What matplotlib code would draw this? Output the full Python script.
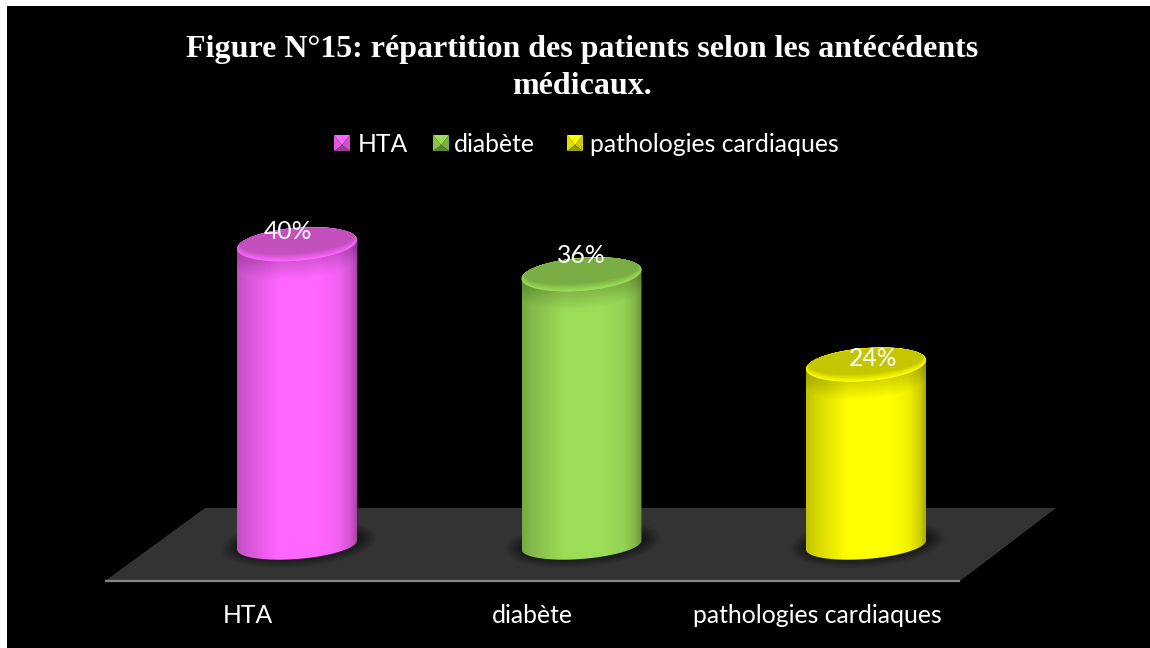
import numpy as np
import matplotlib
matplotlib.use('Agg')
import matplotlib.pyplot as plt
from matplotlib.colors import to_rgb
from matplotlib.patches import Polygon, Rectangle

categories = ['HTA', 'diabète', 'pathologies cardiaques']
valeurs = [40, 36, 24]
etiquettes = ['40%', '36%', '24%']
titre = ['Figure N°15: répartition des patients selon les antécédents', 'médicaux.']

couleurs = ['#ff66ff', '#9cdd58', '#ffff00']
couleurs_dessus = ['#c450be', '#7aae45', '#c6c600']
# decalage des etiquettes par rapport au haut de la barre (px)
decalage_x = [-9, 0, 7]
decalage_y = [13, 19, 6]

W, H = 1150, 648
fig = plt.figure(figsize=(W / 100, H / 100), dpi=100, facecolor='white')

# fond et plancher, en pixels
fond = fig.add_axes([0, 0, 1, 1], zorder=0)
fond.set_xlim(0, W)
fond.set_ylim(H, 0)
fond.axis('off')
fond.add_patch(Rectangle((7, 6), W - 7, H - 6, color='black', lw=0))
fond.add_patch(Polygon([(205, 508), (1056, 508), (960, 581), (105, 581)], color='#333333', lw=0))
fond.plot([105, 960], [581, 581], color='#858585', lw=1.6, solid_capstyle='butt')

# axes des barres: x=0 a 297 px, 284.5 px par categorie, y=0 a 545 px, 7.52 px par %
ax = fig.add_axes([0, 0, 1, 1], zorder=1)
ax.patch.set_alpha(0)
px_x, px_y = 284.5, 7.52
limites_x = (-297 / px_x, (W - 297) / px_x)
limites_y = (-(H - 545) / px_y, 545 / px_y)
ax.axis('off')

demi_l = 60 / px_x
demi_h_bas = 14 / px_y
demi_h_haut = 16.5 / px_y
pente = 4.5 / px_y


def ellipse(cx, cy, a, b, t):
    return cx + a * np.cos(t), cy + b * np.sin(t) + pente * (a / demi_l) * np.cos(t)


def degrade(couleur):
    c = np.array(to_rgb(couleur))
    pos = np.array([0, 0.08, 0.35, 0.68, 0.85, 0.95, 1])
    fac = np.array([0.76, 0.84, 1, 1, 0.95, 0.82, 0.66])
    x = np.linspace(0, 1, 240)
    f = np.interp(x, pos, fac)
    return (f[:, None] * c)[None, :, :]


def cylindre(i, v, coul, coul_dessus):
    # ombre au sol
    t = np.linspace(0, 2 * np.pi, 120)
    for k in range(14):
        ex, ey = ellipse(i + 0.005, 0.2, demi_l * (1.3 - k * 0.022), demi_h_bas * (1.7 - k * 0.05), t)
        ax.fill(ex, ey, color='black', alpha=0.035, lw=0, zorder=2)

    t_bas = np.linspace(np.pi, 2 * np.pi, 60)
    t_haut = np.linspace(0, np.pi, 60)
    bx, by = ellipse(i, 0, demi_l, demi_h_bas, t_bas)
    hx, hy = ellipse(i, v, demi_l, demi_h_haut, t_haut)
    corps = Polygon(np.column_stack([np.r_[bx, hx], np.r_[by, hy]]), transform=ax.transData, lw=0, fc='none')
    ax.add_patch(corps)
    im = ax.imshow(degrade(coul), extent=[i - demi_l, i + demi_l, -3, v + 4], aspect='auto', zorder=3,
                   interpolation='bilinear')
    im.set_clip_path(corps)

    # assombrit le haut du corps, juste sous le bord
    t_av = np.linspace(np.pi, 2 * np.pi, 60)
    for k in range(8):
        ex, ey = ellipse(i, v, demi_l, demi_h_haut, t_av)
        ox = np.r_[ex, ex[::-1]]
        oy = np.r_[ey, ey[::-1] - (k + 1) * 2.2 / px_y]
        ax.fill(ox, oy, color='black', alpha=0.02, lw=0, zorder=3.5)

    # dessus avec biseau clair sur le bord avant
    ex, ey = ellipse(i, v, demi_l, demi_h_haut, t)
    ax.fill(ex, ey, color=coul, lw=0, zorder=4)
    n = 12
    for k in range(n):
        f = (k + 1) / n
        mel = (1 - f) * np.array(to_rgb(coul)) + f * np.array(to_rgb(coul_dessus))
        ex, ey = ellipse(i, v + 0.035 * (k + 1), demi_l * (1 - 0.004 * (k + 1)), demi_h_haut * (1 - 0.022 * (k + 1)), t)
        ax.fill(ex, ey, color=mel, lw=0, zorder=4)


for i in range(len(categories)):
    cylindre(i, valeurs[i], couleurs[i], couleurs_dessus[i])
    ax.text(i + decalage_x[i] / px_x, valeurs[i] + decalage_y[i] / px_y, etiquettes[i], color='white', family='Lato',
            fontsize=17.8, ha='center', va='center', zorder=6)
    ax.text(i - 49 / px_x, -9.4, categories[i], color='white', family='Lato', fontsize=17.8,
            ha='center', va='center', zorder=6)
ax.set_xlim(*limites_x)
ax.set_ylim(*limites_y)

# titre et legende
haut = fig.add_axes([0, 0, 1, 1], zorder=2)
haut.patch.set_alpha(0)
haut.set_xlim(0, W)
haut.set_ylim(H, 0)
haut.axis('off')
titre_y = [49, 86]
for k in range(len(titre)):
    haut.text(582, titre_y[k], titre[k], color='white', family='Liberation Serif', weight='bold', fontsize=23,
              ha='center', va='center')

legende_x = [334, 433, 567]
texte_x = [358, 454, 590]
for i in range(len(categories)):
    x0, y0, c = legende_x[i], 135, 16
    base = np.array(to_rgb(couleurs[i]))
    ctr = (x0 + c / 2, y0 + c / 2 + 2)
    coins = [(x0, y0), (x0 + c, y0), (x0 + c, y0 + c), (x0, y0 + c)]
    facteurs = [1.0, 0.8, 0.6, 0.88]
    for k in range(4):
        haut.add_patch(Polygon([coins[k], coins[(k + 1) % 4], ctr], color=base * facteurs[k], lw=0))
    haut.text(texte_x[i], 144, categories[i], color='white', family='Lato', fontsize=17.8, ha='left', va='center')

fig.savefig('out.png', dpi=100, facecolor='white')
